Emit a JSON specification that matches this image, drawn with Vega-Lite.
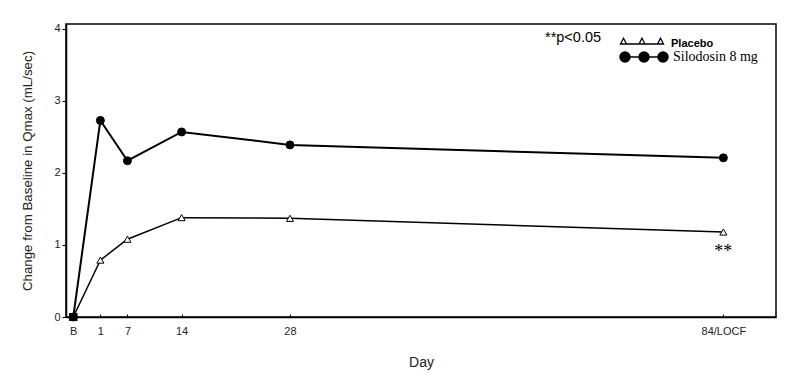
{
  "$schema": "https://vega.github.io/schema/vega-lite/v6.json",
  "width": 710,
  "height": 293,
  "autosize": {"type": "none"},
  "padding": {"left": 66, "top": 24, "right": 29, "bottom": 65},
  "background": "white",
  "config": {
    "view": {"stroke": "black", "strokeWidth": 1.5},
    "axis": {
      "grid": false,
      "domainColor": "black",
      "domainWidth": 1.5,
      "tickColor": "black",
      "labelFont": "Liberation Sans",
      "labelFontSize": 11,
      "labelColor": "#222",
      "titleFont": "Liberation Sans",
      "titleFontWeight": "normal",
      "titleColor": "#222"
    }
  },
  "data": {
    "values": [
      {"group": "Placebo", "day": "B", "pos": 0, "value": 0},
      {"group": "Placebo", "day": "1", "pos": 3.5, "value": 0.79},
      {"group": "Placebo", "day": "7", "pos": 7, "value": 1.08},
      {"group": "Placebo", "day": "14", "pos": 14, "value": 1.38},
      {"group": "Placebo", "day": "28", "pos": 28, "value": 1.37},
      {"group": "Placebo", "day": "84/LOCF", "pos": 84, "value": 1.18, "sig": "**"},
      {"group": "Silodosin 8 mg", "day": "B", "pos": 0, "value": 0},
      {"group": "Silodosin 8 mg", "day": "1", "pos": 3.5, "value": 2.73},
      {"group": "Silodosin 8 mg", "day": "7", "pos": 7, "value": 2.17},
      {"group": "Silodosin 8 mg", "day": "14", "pos": 14, "value": 2.57},
      {"group": "Silodosin 8 mg", "day": "28", "pos": 28, "value": 2.39},
      {"group": "Silodosin 8 mg", "day": "84/LOCF", "pos": 84, "value": 2.21}
    ]
  },
  "encoding": {
    "x": {
      "field": "pos",
      "type": "quantitative",
      "scale": {"domain": [-0.94, 90.8], "nice": false, "zero": false},
      "axis": {
        "title": "Day",
        "values": [0, 3.5, 7, 14, 28, 84],
        "labelExpr": "datum.value === 0 ? 'B' : datum.value === 3.5 ? '1' : datum.value === 84 ? '84/LOCF' : toString(datum.value)",
        "tickSize": -3,
        "labelPadding": 11,
        "labelFlush": false,
        "labelOverlap": false,
        "titleFontSize": 14,
        "titlePadding": 19
      }
    },
    "y": {
      "field": "value",
      "type": "quantitative",
      "scale": {"domain": [0, 4.069], "nice": false},
      "axis": {
        "title": "Change from Baseline in Qmax (mL/sec)",
        "values": [0, 1, 2, 3, 4],
        "tickSize": 4,
        "labelPadding": 2,
        "titleFontSize": 13.3,
        "titlePadding": 19
      }
    }
  },
  "layer": [
    {
      "mark": {"type": "line", "color": "black"},
      "encoding": {
        "detail": {"field": "group"},
        "strokeWidth": {
          "condition": {"test": "datum.group === 'Placebo'", "value": 1.5},
          "value": 2
        }
      }
    },
    {
      "mark": {"type": "point", "filled": true, "stroke": "black", "strokeWidth": 1},
      "encoding": {
        "shape": {
          "field": "group",
          "type": "nominal",
          "scale": {"domain": ["Placebo", "Silodosin 8 mg"], "range": ["triangle-up", "circle"]},
          "legend": null
        },
        "fill": {
          "field": "group",
          "type": "nominal",
          "scale": {"domain": ["Placebo", "Silodosin 8 mg"], "range": ["white", "black"]},
          "legend": null
        },
        "opacity": {
          "field": "group",
          "type": "nominal",
          "scale": {"type": "ordinal", "domain": ["Placebo"], "range": [1]},
          "legend": {
            "orient": "none",
            "legendX": 479,
            "legendY": 14,
            "values": ["Placebo"],
            "title": "**p<0.05",
            "titleOrient": "left",
            "titleAnchor": "start",
            "titleBaseline": "middle",
            "titleFont": "Liberation Sans",
            "titleFontSize": 14.5,
            "titleFontWeight": "normal",
            "titleColor": "black",
            "titlePadding": 34,
            "symbolType": "M-4.3,0L4.3,0M-3.7,-1.15L-3.1,0L-4.3,0ZM0,-1.15L0.6,0L-0.6,0ZM3.7,-1.15L4.3,0L3.1,0Z",
            "symbolSize": 100,
            "symbolFillColor": "white",
            "symbolStrokeColor": "black",
            "symbolStrokeWidth": 1.3,
            "symbolOpacity": 1,
            "labelOffset": 23,
            "labelFont": "Liberation Sans",
            "labelFontWeight": "bold",
            "labelFontSize": 11,
            "labelColor": "black",
            "padding": 0
          }
        },
        "size": {
          "field": "group",
          "type": "nominal",
          "scale": {"type": "ordinal", "domain": ["Silodosin 8 mg", "Placebo"], "range": [64, 50]},
          "legend": {
            "orient": "none",
            "legendX": 571,
            "legendY": 26,
            "values": ["Silodosin 8 mg"],
            "title": null,
            "symbolType": "M-5.5,0L5.5,0M-6,0a1.25,1.25 0 1,0 2.5,0a1.25,1.25 0 1,0 -2.5,0M-1.25,0a1.25,1.25 0 1,0 2.5,0a1.25,1.25 0 1,0 -2.5,0M3.5,0a1.25,1.25 0 1,0 2.5,0a1.25,1.25 0 1,0 -2.5,0",
            "symbolFillColor": "black",
            "symbolStrokeColor": "black",
            "symbolStrokeWidth": 1.5,
            "symbolOpacity": 1,
            "labelOffset": 22,
            "labelFont": "Liberation Serif",
            "labelFontSize": 14,
            "labelColor": "black",
            "padding": 0
          }
        }
      }
    },
    {
      "mark": {"type": "point", "shape": "square", "filled": true, "color": "black", "size": 64, "opacity": 1},
      "transform": [{"filter": "datum.day === 'B'"}]
    },
    {
      "transform": [{"filter": "datum.sig"}],
      "mark": {"type": "text", "font": "Liberation Serif", "fontSize": 18, "baseline": "alphabetic", "dy": 25, "color": "black"},
      "encoding": {
        "text": {"field": "sig"}
      }
    }
  ]
}
